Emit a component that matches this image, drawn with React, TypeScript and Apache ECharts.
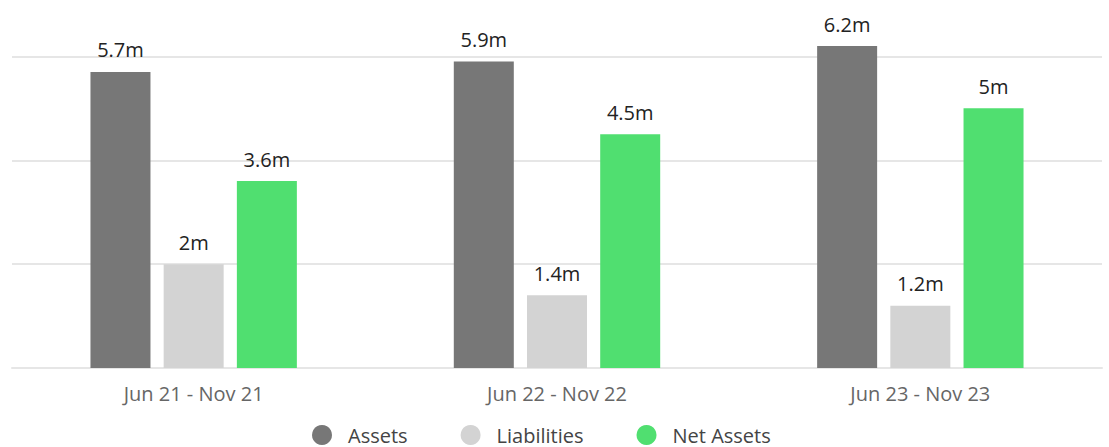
import React, { useEffect, useRef } from "react";
import * as echarts from "echarts";

const categories = ["Jun 21 - Nov 21", "Jun 22 - Nov 22", "Jun 23 - Nov 23"];
const assets = [5.7, 5.9, 6.2];
const liabilities = [2, 1.4, 1.2];
const netAssets = [3.6, 4.5, 5];
const seriesNames = ["Assets", "Liabilities", "Net Assets"];
const colors = ["#777777", "#d3d3d3", "#50df70"];

export default function App() {
  const ref = useRef<HTMLDivElement>(null);
  useEffect(() => {
    const chart = echarts.init(ref.current!, null, { renderer: "svg" });
    const font = "'Open Sans', sans-serif";
    const mk = (name: string, data: number[], color: string) => ({
      name,
      type: "bar",
      data,
      barWidth: 60,
      barGap: "22%",
      itemStyle: { color },
      label: {
        show: true,
        position: "top",
        distance: 12,
        formatter: (p: any) => p.value + "m",
        color: "#222",
        fontSize: 20,
        fontFamily: font,
      },
    });
    chart.setOption({
      animation: false,
      textStyle: { fontFamily: font },
      grid: { left: 12, right: 7, top: 46, bottom: 79, containLabel: false },
      legend: {
        left: 307,
        top: 420,
        icon: "circle",
        itemWidth: 20,
        itemHeight: 20,
        itemGap: 53,
        textStyle: {
          color: "#444",
          fontSize: 20,
          lineHeight: 20,
          fontFamily: font,
          padding: [0, 0, 0, 11],
        },
        data: seriesNames,
      },
      xAxis: {
        type: "category",
        data: categories,
        axisLine: { show: true, lineStyle: { color: "#e6e6e6", width: 2 } },
        axisTick: { show: false },
        axisLabel: { color: "#666", fontSize: 20, fontFamily: font, margin: 15 },
      },
      yAxis: {
        type: "value",
        min: 0,
        max: "dataMax",
        interval: 2,
        axisLabel: { show: false },
        axisLine: { show: false },
        axisTick: { show: false },
        splitLine: { show: true, showMaxLine: false, lineStyle: { color: "#e6e6e6", width: 2 } },
      },
      series: [
        mk(seriesNames[0], assets, colors[0]),
        mk(seriesNames[1], liabilities, colors[1]),
        mk(seriesNames[2], netAssets, colors[2]),
      ],
    });
    return () => chart.dispose();
  }, []);
  return <div ref={ref} style={{ width: 1109, height: 447, position: "absolute", left: 0, top: 0 }} />;
}
